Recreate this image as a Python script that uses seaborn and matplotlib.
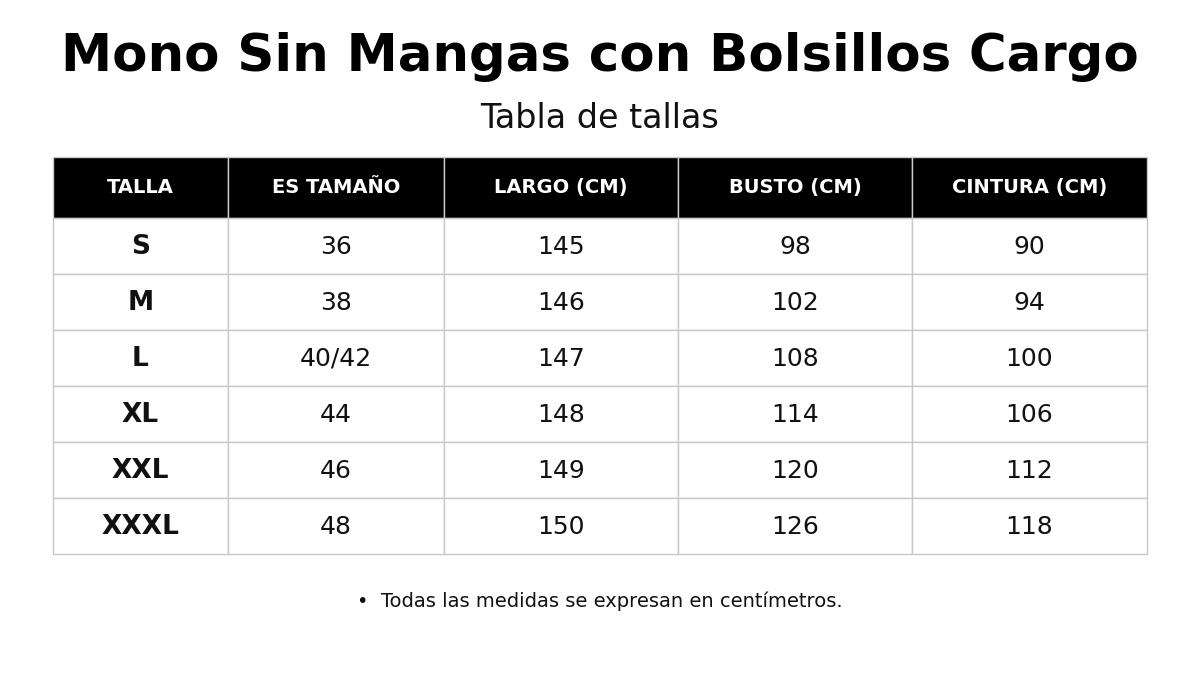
import matplotlib
matplotlib.use("Agg")
import matplotlib.pyplot as plt
from matplotlib.patches import Rectangle
import seaborn as sns

# ----------------------------
# Data
# ----------------------------
title = "Mono Sin Mangas con Bolsillos Cargo"
subtitle = "Tabla de tallas"
headers = ["TALLA", "ES TAMAÑO", "LARGO (CM)", "BUSTO (CM)", "CINTURA (CM)"]
tallas = ["S", "M", "L", "XL", "XXL", "XXXL"]
es_tamano = ["36", "38", "40/42", "44", "46", "48"]
largo = [145, 146, 147, 148, 149, 150]
busto = [98, 102, 108, 114, 120, 126]
cintura = [90, 94, 100, 106, 112, 118]
note = "•  Todas las medidas se expresan en centímetros."

# ----------------------------
# Layout (pixels)
# ----------------------------
col_edges = [53, 228, 444, 678, 912, 1147]
top, head_h, row_h = 157, 61, 56

sns.set_theme(style="white")
plt.rcParams['font.family'] = ['DejaVu Sans']

fig = plt.figure(figsize=(12, 6.75), dpi=100)
ax = fig.add_axes([0, 0, 1, 1])
ax.set_xlim(0, 1200)
ax.set_ylim(675, 0)
ax.axis("off")

ax.text(600, 57, title, ha="center", va="center", fontsize=37, fontweight="bold", color="black")
ax.text(600, 118, subtitle, ha="center", va="center", fontsize=24, color="#111111")

# header
for i, h in enumerate(headers):
    x0, x1 = col_edges[i], col_edges[i + 1]
    ax.add_patch(Rectangle((x0, top), x1 - x0, head_h, facecolor="black", edgecolor="#cccccc", lw=1))
    ax.text((x0 + x1) / 2, top + head_h / 2, h, ha="center", va="center",
            fontsize=14, fontweight="bold", color="white")

# body
rows = list(zip(tallas, es_tamano, largo, busto, cintura))
for r, row in enumerate(rows):
    y0 = top + head_h + r * row_h
    for c, val in enumerate(row):
        x0, x1 = col_edges[c], col_edges[c + 1]
        ax.add_patch(Rectangle((x0, y0), x1 - x0, row_h, facecolor="white", edgecolor="#c8c8c8", lw=1))
        ax.text((x0 + x1) / 2, y0 + row_h / 2 + 1, str(val), ha="center", va="center",
                fontsize=19 if c == 0 else 18, fontweight="bold" if c == 0 else "normal", color="#111111")

ax.text(600, 601, note, ha="center", va="center", fontsize=14, color="#111111")

fig.savefig("out.png", dpi=100, facecolor="white")
